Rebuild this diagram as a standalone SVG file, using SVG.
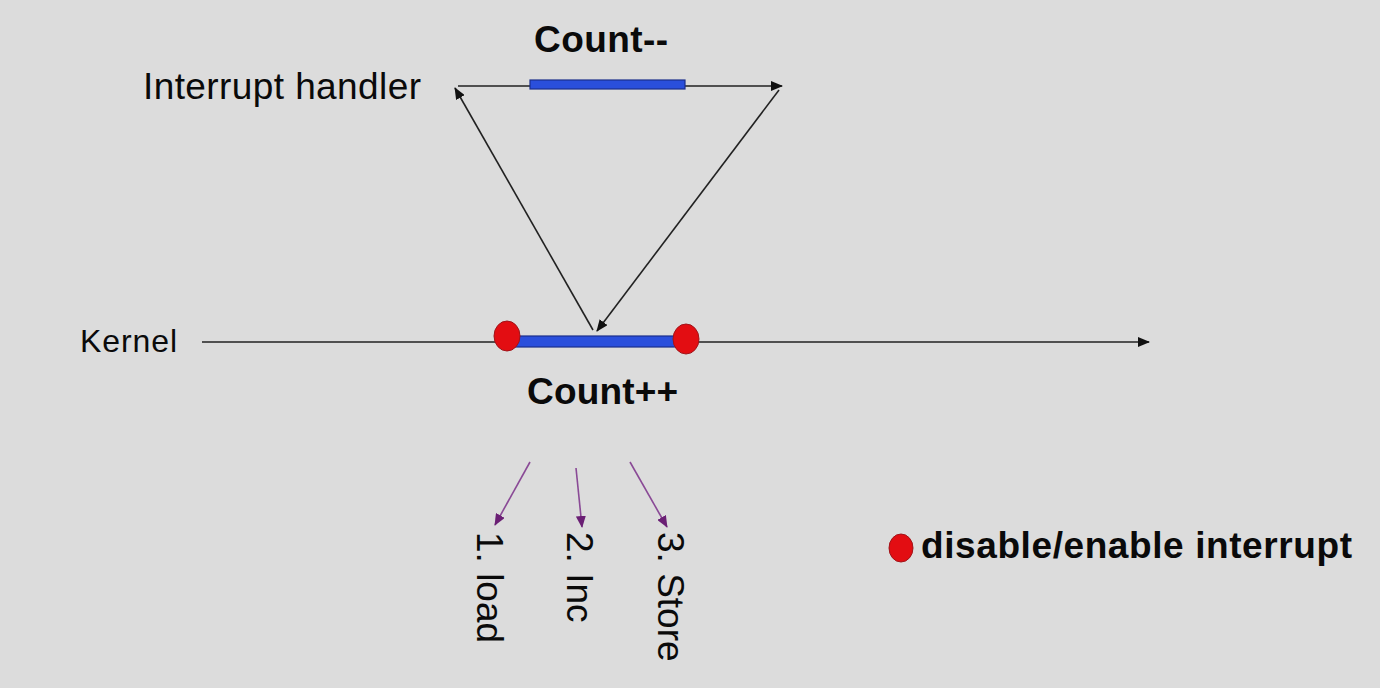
<svg xmlns="http://www.w3.org/2000/svg" width="1380" height="688" viewBox="0 0 1380 688">
<defs>
<marker id="ah" viewBox="0 0 12 10" refX="11" refY="5" markerWidth="12" markerHeight="10" markerUnits="userSpaceOnUse" orient="auto"><path d="M0,0 L12,5 L0,10 Z" fill="#111"/></marker>
<marker id="ap" viewBox="0 0 12 10" refX="11" refY="5" markerWidth="12" markerHeight="10" markerUnits="userSpaceOnUse" orient="auto"><path d="M0,0 L12,5 L0,10 Z" fill="#6a1f74"/></marker>
<style>
.t{font-family:"Liberation Sans",Arial,sans-serif;fill:#0a0a0a}
.b{font-weight:bold}
.ln{stroke:#222;stroke-width:1.6;fill:none}
.pl{stroke:#8a4a96;stroke-width:1.6;fill:none}
.bar{fill:#2a4fdc;stroke:#1c2f8c;stroke-width:1.2}
.dot{fill:#e30d12;stroke:#a0141a;stroke-width:1}
</style>
</defs>
<rect width="1380" height="688" fill="#dcdcdc"/>
<g id="connectors">
<line class="ln" x1="458" y1="86" x2="782" y2="86" marker-end="url(#ah)"/>
<line class="ln" x1="593" y1="330" x2="455" y2="88" marker-end="url(#ah)"/>
<line class="ln" x1="779" y1="90" x2="597" y2="331" marker-end="url(#ah)"/>
<line class="ln" x1="202" y1="342" x2="1149" y2="342" marker-end="url(#ah)"/>
<line class="pl" x1="530" y1="462" x2="495" y2="525" marker-end="url(#ap)"/>
<line class="pl" x1="576" y1="468" x2="582" y2="527" marker-end="url(#ap)"/>
<line class="pl" x1="630" y1="462" x2="667" y2="527" marker-end="url(#ap)"/>
</g>
<g id="interrupt-handler">
<text class="t" x="143" y="99" font-size="37" textLength="278">Interrupt handler</text>
<rect class="bar" x="530" y="80" width="155" height="9"/>
<text class="t b" x="534" y="52" font-size="37" textLength="134">Count--</text>
</g>
<g id="kernel">
<text class="t" x="80" y="352" font-size="32" textLength="97">Kernel</text>
<rect class="bar" x="507" y="336" width="179" height="11"/>
<ellipse class="dot" cx="507" cy="336" rx="13" ry="15"/>
<ellipse class="dot" cx="686" cy="339" rx="13" ry="15"/>
<text class="t b" x="527" y="404" font-size="37" textLength="151">Count++</text>
</g>
<g id="steps">
<text class="t" font-size="37" transform="translate(477,532) rotate(90)">1. load</text>
<text class="t" font-size="37" transform="translate(567,532) rotate(90)">2. Inc</text>
<text class="t" font-size="37" transform="translate(658,532) rotate(90)">3. Store</text>
</g>
<g id="legend">
<ellipse class="dot" cx="901" cy="548" rx="12" ry="14"/>
<text class="t b" x="921" y="558" font-size="37" textLength="431">disable/enable interrupt</text>
</g>
</svg>
